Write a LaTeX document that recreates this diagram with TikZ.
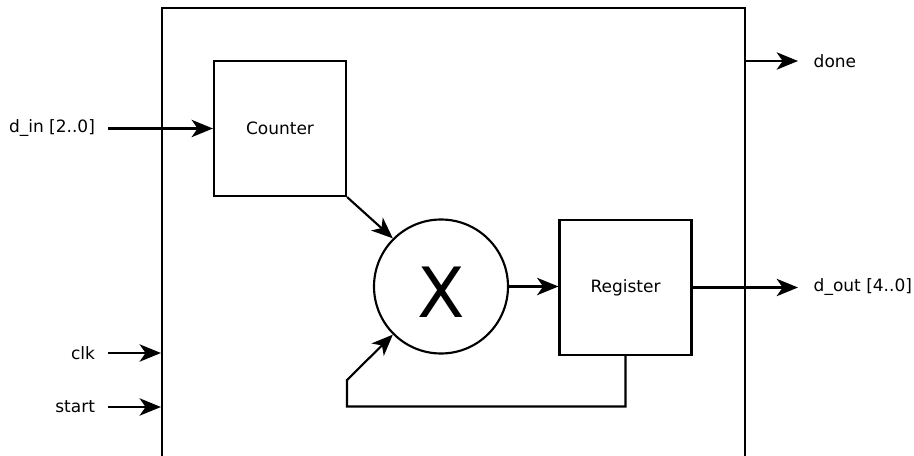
\documentclass[tikz,border=0pt]{standalone}
\usepackage{fontspec}
\setmainfont{DejaVu Sans}
\usetikzlibrary{arrows.meta,positioning}

\begin{document}
\begin{tikzpicture}[x=0.75pt,y=-0.75pt,->,>={Stealth[length=16pt,width=13pt,inset=4.5pt]},line width=1.6pt,
    block/.style={draw,inner sep=0pt,minimum width=99pt,minimum height=101.25pt,font=\fontsize{12.75}{15}\selectfont},
    mult node/.style={circle,draw,inner sep=0pt,minimum size=100.5pt,font=\fontsize{52}{60}\selectfont},
    sig/.style={inner sep=0pt,font=\fontsize{12.75}{15}\selectfont}]
                \useasboundingbox (0,0) rectangle (914,456);
                \clip (0,0) rectangle (914,456);

                % chip outline, open at the bottom
                \node[draw,inner sep=0pt,minimum width=437.25pt,minimum height=346.5pt] (chip) at (453.5,239) {};

                \node[block] (counter) at (280,128.5) {Counter};
                \node[mult node] (mult) at (441,286.5) {\vphantom{X}\smash{\raisebox{-4.5pt}{X}}};
                \node[block] (register) at (625.5,287.5) {Register};

                % ports
                \coordinate (din) at (108,128.5);
                \coordinate (clk) at (108,353);
                \coordinate (start) at (108,407);
                \coordinate (done) at (798,61);
                \coordinate (dout) at (798,287.5);
                \coordinate (fb) at (347,406.5);
                \coordinate (fbup) at (347,380);

                \node[sig,left=9pt of din] (dinlabel) {d\_in [2..0]};
                \node[sig,left=9pt of clk] (clklabel) {clk};
                \node[sig,left=9pt of start] (startlabel) {start};
                \node[sig,right=11pt of done] (donelabel) {done};
                \node[sig,right=11pt of dout] (doutlabel) {d\_out [4..0]};

                \draw (din) -- (counter.west);
                \draw (clk) -- (clk -| chip.west);
                \draw (start) -- (start -| chip.west);
                \draw (chip.east |- done) -- (done);
                \draw (counter.south east) -- (mult.135);
                \draw (mult.east) -- (mult.east -| register.west);
                \draw (register.east) -- (dout);
                \draw (register.south) |- (fb) -- (fbup) -- (mult.225);
            \end{tikzpicture}
\end{document}
